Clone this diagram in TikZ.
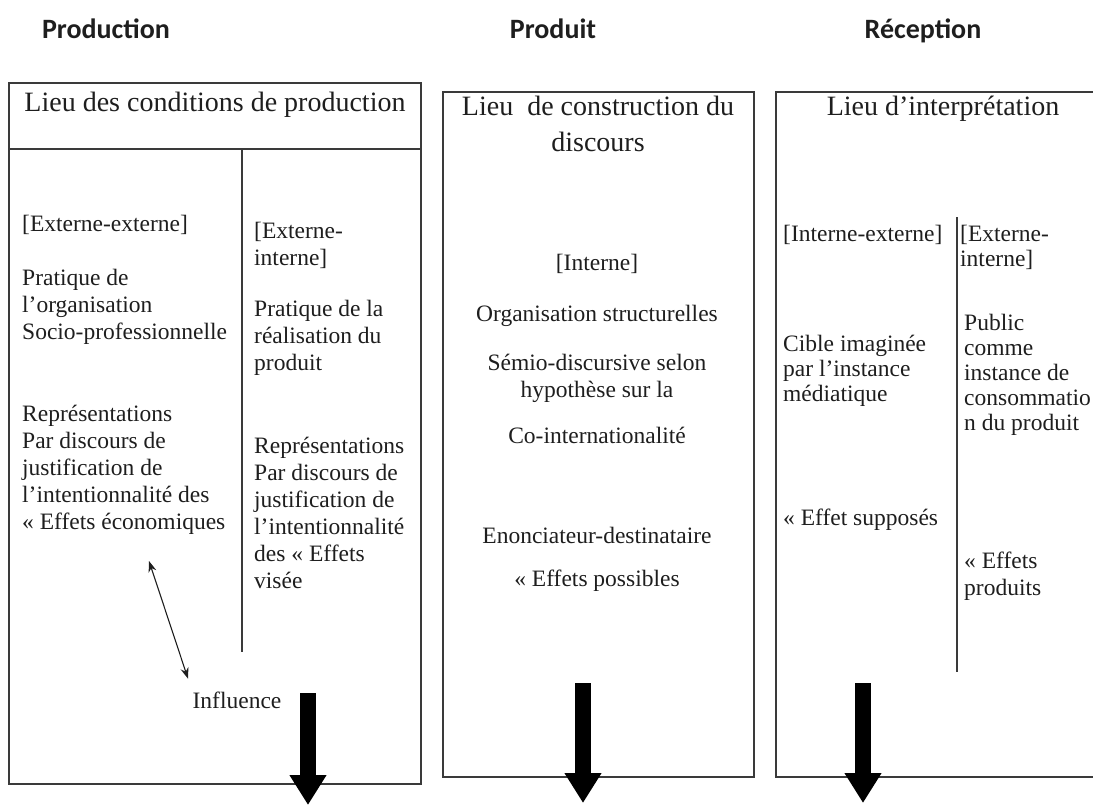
\documentclass[tikz,border=0pt]{standalone}
\usepackage{fontspec}
\setmainfont{Liberation Serif}
\newfontfamily\headfont{Carlito}
\usepackage{tikz}
\usetikzlibrary{arrows.meta}
\definecolor{ink}{HTML}{1E1E1E}
\definecolor{rule}{HTML}{3A3A3A}
\tikzset{
  frame/.style={draw=rule, line width=1.8pt},
  sep/.style={draw=rule, line width=1.4pt},
  head/.style={text=ink, anchor=base, font=\headfont\bfseries\fontsize{28}{32}\selectfont},
  ttl/.style={text=ink, font=\fontsize{28}{36}\selectfont, align=center, inner sep=0pt, anchor=north},
  txt/.style={text=ink, font=\fontsize{23.5}{27}\selectfont, align=left, inner sep=0pt, anchor=north west},
  txtr/.style={txt, font=\fontsize{23.5}{25}\selectfont},
  mid/.style={txt, anchor=north, align=center},
  dbl/.style={draw=ink, line width=1.1pt, {Stealth[length=11pt,width=8pt]}-{Stealth[length=11pt,width=8pt]}},
  fat/.style={draw=black, line width=16pt, -{Triangle[length=30pt,width=35pt]}},
}

\begin{document}
\begin{tikzpicture}[x=1pt,y=-1pt]
  \useasboundingbox (0,0) rectangle (1093,806);
  \clip (0,0) rectangle (1093,806);
  % headings
  \node[head] (hProd) at (106,38) {Production};
  \node[head] (hPrdt) at (553,38) {Produit};
  \node[head] (hRecp) at (923,38) {Réception};
  % production
  \draw[frame] (9,83) rectangle (421,784);
  \draw[frame] (9,149) -- (421,149);
  \draw[sep] (242,149) -- (242,652);
  \node[ttl] (tProd) at (215,92) {Lieu des conditions de production};
  \node[txt] (ee) at (22,215) {[Externe-externe]};
  \node[txt] (pratA) at (22,269) {Pratique de\\l’organisation\\Socio-professionnelle};
  \node[txt] (repA) at (22,405) {Représentations\\Par discours de\\justification de\\l’intentionnalité des\\« Effets économiques};
  \node[txt] (ei) at (254,222) {[Externe-\\interne]};
  \node[txt] (pratB) at (254,300) {Pratique de la\\réalisation du\\produit};
  \node[txt] (repB) at (254,437) {Représentations\\Par discours de\\justification de\\l’intentionnalité\\des « Effets\\visée};
  \node[txt, anchor=north] (infl) at (237,692) {Influence};
  \coordinate (econ) at (149,561);
  \draw[dbl, shorten >=14pt] (econ) -- (infl.north west);
  % produit
  \draw[frame] (443,92) rectangle (754,777);
  \node[ttl] (tPrdt) at (598,96) {Lieu \ de construction du\\discours};
  \node[mid] (int) at (597,254) {[Interne]};
  \node[mid] (orgs) at (597,305) {Organisation structurelles};
  \node[mid] (semio) at (597,354) {Sémio-discursive selon\\hypothèse sur la};
  \node[mid] (coint) at (597,427) {Co-internationalité};
  \node[mid] (enon) at (597,527) {Enonciateur-destinataire};
  \node[mid] (poss) at (597,570) {« Effets possibles};
  % reception
  \draw[frame] (776,92) rectangle (1110,777);
  \draw[sep] (957,217) -- (957,672);
  \node[ttl] (tRecp) at (943,96) {Lieu d’interprétation};
  \node[txtr] (ie) at (783,225) {[Interne-externe]};
  \node[txtr] (eiR) at (960,225) {[Externe-\\interne]};
  \node[txtr] (cible) at (783,335) {Cible imaginée\\par l’instance\\médiatique};
  \node[txtr] (pub) at (964,314) {Public\\comme\\instance de\\consommatio\\n du produit};
  \node[txtr] (supp) at (783,509) {« Effet supposés};
  \node[txt] (effp) at (964,552) {« Effets\\produits};
  % thick arrows
  \coordinate (aProdS) at (308,693);
  \coordinate (aProdE) at (308,805);
  \coordinate (aPrdtS) at (583,683);
  \coordinate (aPrdtE) at (583,803);
  \coordinate (aRecpS) at (863,683);
  \coordinate (aRecpE) at (863,803);
  \draw[fat] (aProdS) -- (aProdE);
  \draw[fat] (aPrdtS) -- (aPrdtE);
  \draw[fat] (aRecpS) -- (aRecpE);
\end{tikzpicture}
\end{document}
